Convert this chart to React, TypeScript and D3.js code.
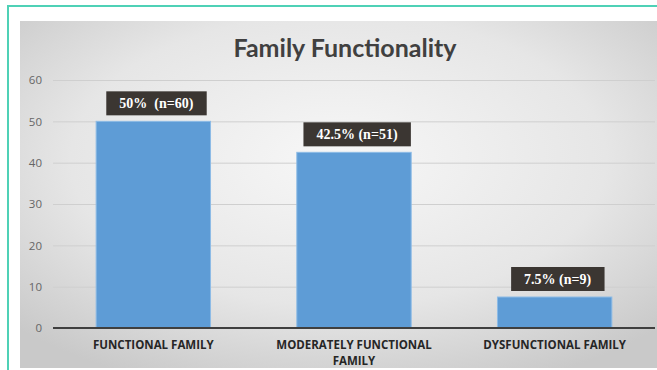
import { useEffect, useRef } from "react";
import * as d3 from "d3";

const categories = ["FUNCTIONAL FAMILY", "MODERATELY FUNCTIONAL FAMILY", "DYSFUNCTIONAL FAMILY"];
const categoryLines = [["FUNCTIONAL FAMILY"], ["MODERATELY FUNCTIONAL", "FAMILY"], ["DYSFUNCTIONAL FAMILY"]];
const values = [50, 42.5, 7.5];
const valueLabels = ["50%  (n=60)", "42.5% (n=51)", "7.5% (n=9)"];
const yTicks = [0, 10, 20, 30, 40, 50, 60];

export default function App() {
    const ref = useRef<SVGSVGElement>(null);

    useEffect(() => {
        const svg = d3.select(ref.current);
        svg.selectAll("*").remove();

        const W = 657;
        const H = 370;

        const defs = svg.append("defs");
        const grad = defs.append("radialGradient")
            .attr("id", "bg")
            .attr("cx", "50%").attr("cy", "40%").attr("r", "70%");
        grad.append("stop").attr("offset", "0%").attr("stop-color", "#f7f7f7");
        grad.append("stop").attr("offset", "60%").attr("stop-color", "#e6e6e6");
        grad.append("stop").attr("offset", "100%").attr("stop-color", "#c9c9c9");

        // page + teal frame
        svg.append("rect").attr("width", W).attr("height", H).attr("fill", "#fff");
        svg.append("rect")
            .attr("x", 8).attr("y", 6).attr("width", W + 20).attr("height", H + 20)
            .attr("fill", "none").attr("stroke", "#4fd1b6").attr("stroke-width", 2);

        // chart panel
        svg.append("rect")
            .attr("x", 20).attr("y", 21).attr("width", W - 20).attr("height", 347)
            .attr("fill", "url(#bg)");

        const x = d3.scaleBand<string>()
            .domain(categories)
            .range([53, 655])
            .paddingInner(0.43)
            .paddingOuter(0.215);

        const y = d3.scaleLinear()
            .domain([0, 60])
            .range([328, 80]);

        svg.append("text")
            .attr("x", 345).attr("y", 57)
            .attr("text-anchor", "middle")
            .attr("font-family", "Lato, 'Open Sans', sans-serif")
            .attr("font-weight", "bold")
            .attr("font-size", 25)
            .attr("fill", "#404040")
            .text("Family Functionality");

        // gridlines
        const yAxis = d3.axisLeft(y)
            .tickValues(yTicks)
            .tickSize(-(655 - 53))
            .tickPadding(11);
        const axisG = svg.append("g")
            .attr("transform", "translate(53,0)")
            .call(yAxis);
        axisG.select(".domain").remove();
        axisG.selectAll(".tick line")
            .attr("stroke", "#cfcfcf")
            .attr("stroke-width", 1);
        axisG.selectAll(".tick text")
            .attr("fill", "#666666")
            .attr("font-family", "'Open Sans', sans-serif")
            .attr("font-size", 11.5);

        // bars
        svg.append("g")
            .selectAll("rect")
            .data(values)
            .enter()
            .append("rect")
            .attr("x", (d, i) => x(categories[i])!)
            .attr("y", d => y(d))
            .attr("width", x.bandwidth())
            .attr("height", d => y(0) - y(d))
            .attr("fill", "#5e9cd6")
            .attr("stroke", "#8dbbe6")
            .attr("stroke-width", 1);

        // baseline
        svg.append("line")
            .attr("x1", 53).attr("x2", 655)
            .attr("y1", y(0)).attr("y2", y(0))
            .attr("stroke", "#3f3f3f").attr("stroke-width", 2);

        // value labels
        const labelG = svg.append("g")
            .selectAll("g")
            .data(values)
            .enter()
            .append("g")
            .attr("transform", (d, i) => `translate(${x(categories[i])! + x.bandwidth() / 2 + 3}, ${y(d) - 6})`);

        const labelText = labelG.append("text")
            .attr("y", -7)
            .attr("text-anchor", "middle")
            .attr("font-family", "'Liberation Serif', 'Times New Roman', serif")
            .attr("font-weight", "bold")
            .attr("font-size", 14)
            .attr("fill", "#ffffff")
            .style("white-space", "pre")
            .text((d, i) => valueLabels[i]);

        labelText.each(function () {
            const node = this as SVGTextElement;
            const bb = node.getBBox();
            d3.select(node.parentNode as SVGGElement)
                .insert("rect", "text")
                .attr("x", bb.x - 13)
                .attr("y", -24)
                .attr("width", bb.width + 26)
                .attr("height", 24)
                .attr("fill", "#3b3632");
        });

        // category labels
        const catG = svg.append("g")
            .selectAll("text")
            .data(categories)
            .enter()
            .append("text")
            .attr("x", d => x(d)! + x.bandwidth() / 2)
            .attr("y", 349)
            .attr("text-anchor", "middle")
            .attr("font-family", "'Open Sans', sans-serif")
            .attr("font-weight", "bold")
            .attr("font-size", 11.5)
            .attr("fill", "#262626");

        catG.selectAll("tspan")
            .data((d, i) => categoryLines[i])
            .enter()
            .append("tspan")
            .attr("x", function () { return (this.parentNode as SVGTextElement).getAttribute("x"); })
            .attr("dy", (d, i) => i === 0 ? 0 : 16)
            .text(d => d);
    }, []);

    return (
        <svg ref={ref} width={657} height={370}
            style={{ position: "absolute", left: 0, top: 0, display: "block" }}></svg>
    );
}
